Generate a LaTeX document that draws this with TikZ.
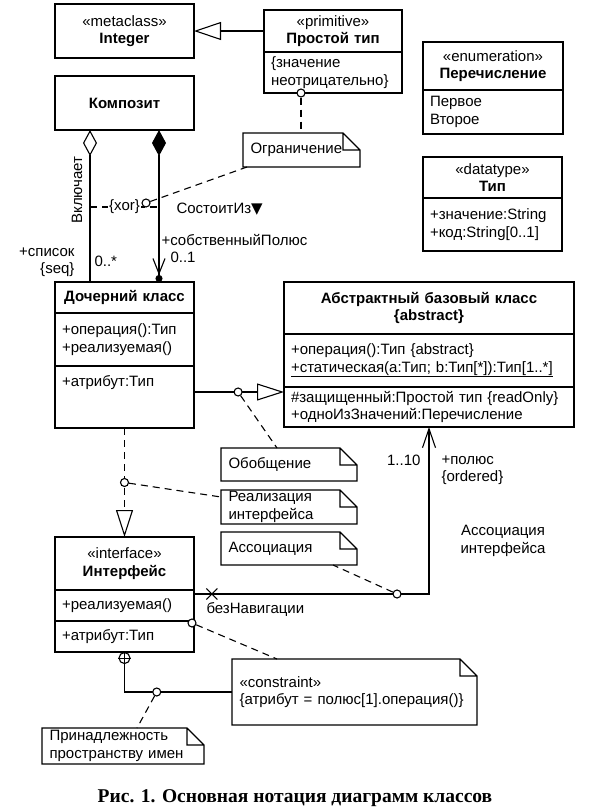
\documentclass[tikz,border=0pt]{standalone}
\usepackage{fontspec}
\setmainfont{Liberation Sans}
\newfontfamily\capfont{Liberation Serif}
\newfontfamily\symfont{DejaVu Sans}
\usetikzlibrary{arrows.meta,positioning,shapes.misc}

\begin{document}
\begin{tikzpicture}[x=1pt,y=-1pt,line width=1.1pt,
		font=\fontsize{15}{17.5}\selectfont,
		head/.style={draw,anchor=north west,align=center,inner xsep=7pt,inner ysep=0pt,outer sep=0pt,text width=#1},
		part/.style={draw,anchor=north west,align=left,inner xsep=7pt,inner ysep=0pt,outer sep=0pt,text width=#1},
		note/.style={anchor=north west,align=left,inner xsep=7.5pt,inner ysep=0pt,outer sep=0pt,text width=#1},
		hole/.style={circle,draw,solid,fill=white,inner sep=0pt,minimum size=8pt},
		lbl/.style={inner sep=0pt},
		hint/.style={dash pattern=on 7pt off 5pt},
		gen/.style={-{Triangle[open,length=27pt,width=18pt]}}]
	\path[use as bounding box,fill=white] (0,0) rectangle (591,812);

	% classes
	\node[head=125,minimum height=54] (integer) at (55,4) {«metaclass»\\\textbf{Integer}};
	\node[head=125,minimum height=54] (komp) at (55,76) {\textbf{Композит}};
	\node[head=124,minimum height=42] (prim) at (264,10) {«primitive»\\\textbf{Простой тип}};
	\node[part=124,minimum height=41] (primbody) at (prim.south west) {\{значение\\неотрицательно\}};
	\node[head=126,minimum height=48] (enum) at (423,42) {«enumeration»\\\textbf{Перечисление}};
	\node[part=126,minimum height=44] (enumbody) at (enum.south west) {Первое\\Второе};
	\node[head=125,minimum height=41] (dtype) at (423,157) {«datatype»\\\textbf{Тип}};
	\node[part=125,minimum height=53] (dtypebody) at (dtype.south west) {+значение:String\\+код:String[0..1]};
	\node[head=125,minimum height=31] (child) at (55,282) {\textbf{Дочерний класс}};
	\node[part=125,minimum height=53] (childops) at (child.south west) {+операция():Тип\\+реализуемая()};
	\node[part=125,text height=12pt,text depth=34pt,inner ysep=8pt] (childattr) at (childops.south west) {+атрибут:Тип};
	\node[head=276,minimum height=52] (abs) at (284,282) {\textbf{Абстрактный базовый класс}\\\textbf{\{abstract\}}};
	\node[part=276,minimum height=53] (absops) at (abs.south west) {+операция():Тип \{abstract\}\\\underline{+статическая(a:Тип; b:Тип[*]):Тип[1..*]}};
	\node[part=276,minimum height=40] (absattr) at (absops.south west) {\#защищенный:Простой тип \{readOnly\}\\+одноИзЗначений:Перечисление};
	\node[head=125,minimum height=53] (iface) at (55,537) {«interface»\\\textbf{Интерфейс}};
	\node[part=125,minimum height=31] (ifops) at (iface.south west) {+реализуемая()};
	\node[part=125,minimum height=31] (ifattr) at (ifops.south west) {+атрибут:Тип};

	% notes
	\node[note=102,minimum height=34] (ogr) at (243,133) {Ограничение};
	\node[note=121,minimum height=33] (obob) at (221,448) {Обобщение};
	\node[note=121,minimum height=34] (real) at (221,490) {Реализация\\интерфейса};
	\node[note=121,minimum height=33] (assoc) at (221,532) {Ассоциация};
	\node[note=147,minimum height=36] (ns) at (42,728) {Принадлежность\\пространству имен};
	\node[note=230,minimum height=66] (cons) at (232,659) {«constraint»\\\{атрибут = полюс[1].операция()\}};
	\foreach \n in {ogr,obob,real,assoc,ns,cons}
		\draw (\n.north west) -- ([xshift=-17pt]\n.north east) -- ([yshift=-17pt]\n.north east)
			-- (\n.south east) -- (\n.south west) -- cycle
			([xshift=-17pt]\n.north east) |- ([yshift=-17pt]\n.north east);

	% generalisation
	\draw[gen] (prim.west) -- (integer.east);
	\coordinate (g1) at ([yshift=-26pt]childattr.north east);
	\draw[-{Triangle[open,length=27pt,width=17pt]}] (g1) -- node[hole,pos=0.49] (gc) {} (g1 -| absattr.west);
	\draw[hint] (gc) -- ([xshift=56pt]obob.north west);

	% aggregation, composition
	\draw[{Diamond[open,length=26pt,width=14pt]}-] ([xshift=35pt]komp.south west) -- ([xshift=35pt]child.north west);
	\draw[{Diamond[length=26pt,width=14pt]}-{Straight Barb[length=15pt,width=12pt] Circle[length=7pt]}]
		([xshift=104pt]komp.south west) -- ([xshift=104pt]child.north west);
	\coordinate (xl) at ([xshift=35pt,yshift=-77pt]komp.south west);
	\coordinate (xr) at ([xshift=104pt,yshift=-77pt]komp.south west);
	\draw[hint] (xl) -- node[fill=white,inner sep=1pt] (xor) {\{xor\}} (xr);
	\node[hole,right=0pt of xor,yshift=4pt] (xc) {};
	\draw[hint] (xc) -- ([xshift=4pt]ogr.south west);
	\node[hole] (pc) at ([xshift=-32pt]primbody.south) {};
	\draw[hint] (pc) -- (pc |- ogr.north);

	\node[lbl,rotate=90] (incl) at (77,190) {Включает};
	\node[lbl,anchor=east,align=right] (spis) at (75,262) {+список\\\{seq\}};
	\node[lbl,anchor=west] (many) at (94,261) {0..*};
	\node[lbl,anchor=west] (own) at (161,240) {+собственныйПолюс};
	\node[lbl,anchor=west] (one) at (170,257) {0..1};
	\node[lbl,anchor=west] (sost) at (176,209) {СостоитИз{\symfont ▼}};

	% realisation
	\draw[hint,-{Triangle[open,length=27pt,width=17pt]}] (childattr.south) -- node[hole,pos=0.5] (rc) {} (iface.north);
	\draw[hint] (rc) -- ([yshift=-7pt]real.north west);

	% association
	\coordinate (as) at ([yshift=-4pt]ifops.north east);
	\draw[-{Straight Barb[length=19pt,width=13pt]}] (as) -| node[cross out,draw,pos=0.038,minimum size=10pt,inner sep=0pt] (nx) {}
		node[hole,pos=0.432] (ac) {} (absattr.south);
	\draw[hint] (ac) -- ([xshift=112pt]assoc.south west);
	\node[lbl,anchor=west] (nonav) at (206,609) {безНавигации};
	\node[lbl,anchor=east] (m110) at (421,460) {1..10};
	\node[lbl,anchor=west,align=left] (pol) at (441,470) {+полюс\\\{ordered\}};
	\node[lbl,align=center] (ainame) at (503,541) {Ассоциация\\интерфейса};

	% namespace, constraint
	\node[circle,draw,minimum size=11pt,inner sep=0pt,anchor=north] (np) at (ifattr.south) {};
	\draw (np.north) -- (np.south) (np.west) -- (np.east);
	\draw (np) |- node[hole,pos=0.65] (nc) {} (cons.west);
	\draw[hint] (nc) -- ([xshift=95pt]ns.north west);
	\node[hole] (ic) at ([xshift=-2pt,yshift=-2pt]ifattr.north east) {};
	\draw[hint] (ic) -- ([xshift=45pt]cons.north west);

	\node[lbl,font=\capfont\bfseries\fontsize{19.5}{22}\selectfont] (cap) at (295,798) {Рис. 1. Основная нотация диаграмм классов};
\end{tikzpicture}
\end{document}
